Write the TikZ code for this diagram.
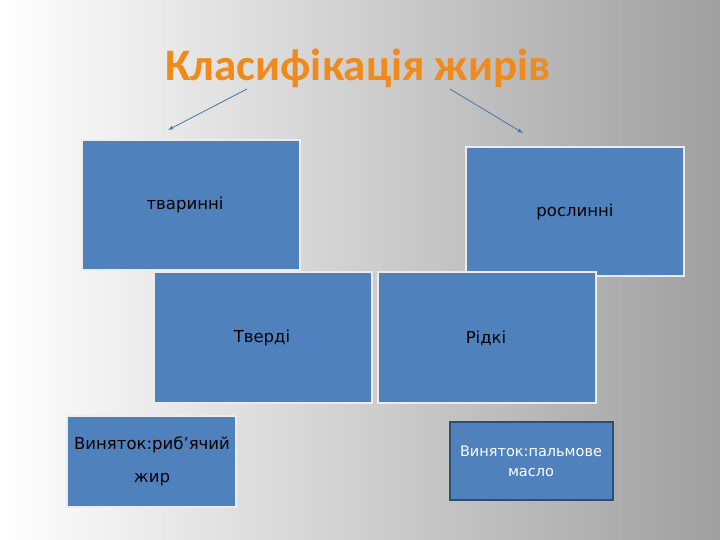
\documentclass[tikz,border=0pt]{standalone}
\usepackage{fontspec}
\setmainfont{DejaVu Sans}
\newfontfamily\titlefont{Carlito}
\definecolor{boxblue}{HTML}{4F81BD}
\definecolor{ttl}{HTML}{F08A1C}
\begin{document}
\begin{tikzpicture}[x=1pt,y=-1pt,
  bx/.style={draw=#1,line width=1.5pt,fill=boxblue},
  lb/.style={font=\fontsize{16.5}{20}\selectfont,text=black},
  arr/.style={draw=boxblue!90!black,line width=0.8pt,-latex}]
\useasboundingbox (0,0) rectangle (720,540);
\shade[shading angle=-60,left color=white,right color=gray!75] (0,0) rectangle (720,540);
\node[font=\titlefont\bfseries\fontsize{45}{50}\selectfont,text=ttl] (t) at (358,68) {Класифікація жирів};
\coordinate (a1) at (247,89); \coordinate (a2) at (168,130);
\coordinate (b1) at (450,89); \coordinate (b2) at (523,133);
\draw[arr] (a1) -- (a2);
\draw[arr] (b1) -- (b2);
\draw[bx=gray!15] (82,140) rectangle (300,270);
\node[lb] (n1) at (185,205) {тваринні};
\draw[bx=gray!15] (466,147) rectangle (684,276);
\node[lb] (n2) at (575,212) {рослинні};
\draw[bx=gray!15] (154,272) rectangle (372,403);
\node[lb] (n3) at (262,338) {Тверді};
\draw[bx=gray!15] (378,272) rectangle (596,403);
\node[lb] (n4) at (486,338) {Рідкі};
\draw[bx=gray!15] (67,416) rectangle (236,507);
\node[lb,align=center,font=\fontsize{16.5}{33}\selectfont] (n5) at (152,461) {Виняток:риб’ячий\\жир};
\draw[bx=boxblue!60!black] (450,422) rectangle (613,500);
\node[lb,align=center,text=white,font=\fontsize{14.5}{20}\selectfont] (n6) at (531,461) {Виняток:пальмове\\масло};
\end{tikzpicture}
\end{document}
